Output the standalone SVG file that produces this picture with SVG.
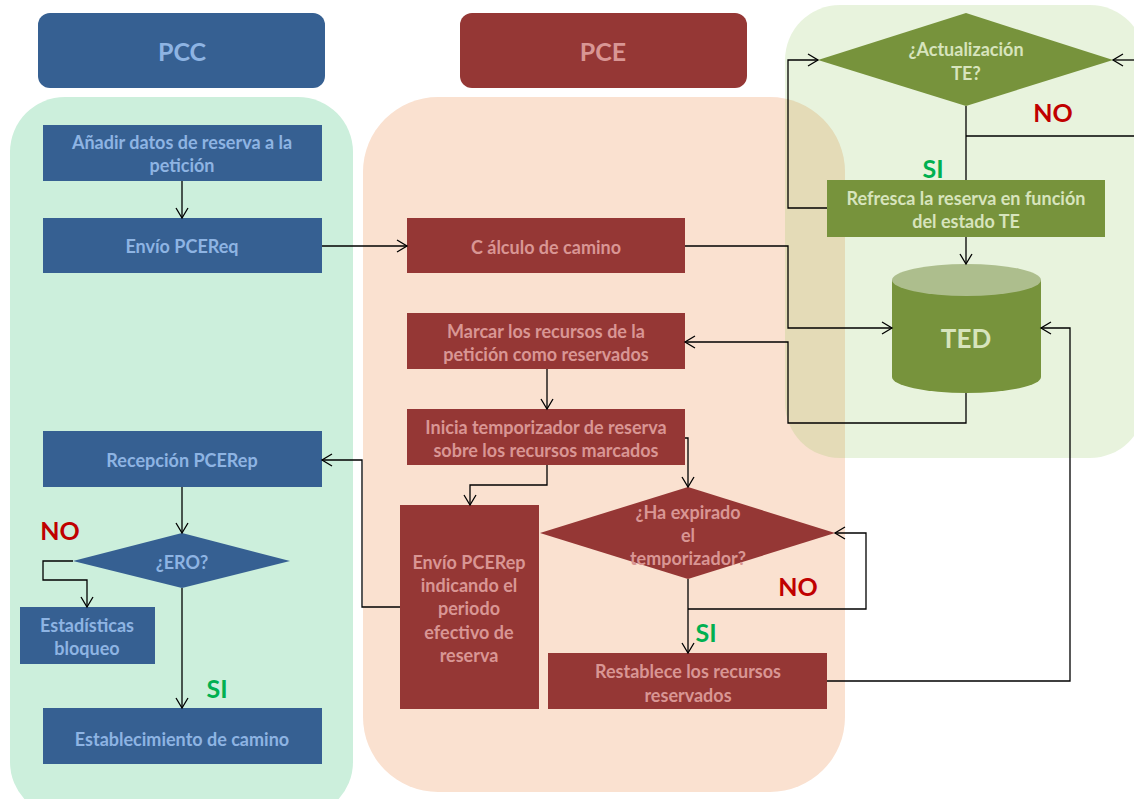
<svg xmlns="http://www.w3.org/2000/svg" width="1134" height="799" viewBox="0 0 1134 799">
<defs>
<marker id="arr" markerUnits="userSpaceOnUse" markerWidth="14" markerHeight="14" viewBox="0 0 12 14" refX="11" refY="7" orient="auto">
<path d="M1,1 L11,7 L1,13" fill="none" stroke="#000" stroke-width="1.3"/>
</marker>
<style>
text{font-family:Lato,"Liberation Sans",sans-serif;font-weight:bold;text-anchor:middle;dominant-baseline:central}
.t{font-size:18px}
.h{font-size:25px}
.blue{fill:#366092}
.red{fill:#953735}
.grn{fill:#77933c}
.tb{fill:#8eb4e3}
.tr{fill:#d99694}
.tg{fill:#d7e4bd}
.no{fill:#c00000;font-size:25px}
.si{fill:#00b050;font-size:25px}
.c{fill:none;stroke:#000;stroke-width:1.3}
.a{marker-end:url(#arr)}
</style>
</defs>
<g id="panels">
<rect id="pcc-panel" x="10" y="97" width="343" height="720" rx="55" fill="#ccefdc"/>
<rect id="pce-panel" x="363" y="97" width="482" height="695" rx="75" fill="#fae1d0"/>
<rect id="te-panel" x="785" y="5" width="360" height="453" rx="55" fill="#8cc355" fill-opacity="0.2"/>
</g>
<g id="hdr-pcc"><rect x="38" y="13" width="287" height="75" rx="12" class="blue"/><text x="182" y="51" class="h tb">PCC</text></g>
<g id="hdr-pce"><rect x="460" y="13" width="287" height="75" rx="12" class="red"/><text x="603" y="51" class="h tr">PCE</text></g>

<g id="n-anadir"><rect x="43" y="125" width="279" height="56" class="blue"/><text x="182" y="142" class="t tb">Añadir datos de reserva a la</text><text x="182" y="165" class="t tb">petición</text></g>
<g id="n-envio-req"><rect x="43" y="218" width="279" height="55" class="blue"/><text x="182" y="246" class="t tb">Envío PCEReq</text></g>
<g id="n-recepcion"><rect x="43" y="431" width="279" height="56" class="blue"/><text x="182" y="460" class="t tb">Recepción PCERep</text></g>
<g id="n-ero"><polygon points="73,561 182,533 290,561 182,588" class="blue"/><text x="182" y="562" class="t tb">¿ERO?</text></g>
<g id="n-estad"><rect x="20" y="607" width="135" height="57" class="blue"/><text x="87" y="625" class="t tb">Estadísticas</text><text x="87" y="648" class="t tb">bloqueo</text></g>
<g id="n-establec"><rect x="43" y="708" width="279" height="56" class="blue"/><text x="182" y="739" class="t tb">Establecimiento de camino</text></g>

<g id="n-calculo"><rect x="407" y="218" width="278" height="55" class="red"/><text x="546" y="247" class="t tr">C álculo de camino</text></g>
<g id="n-marcar"><rect x="407" y="313" width="278" height="56" class="red"/><text x="546" y="331" class="t tr">Marcar los recursos de la</text><text x="546" y="354" class="t tr">petición como reservados</text></g>
<g id="n-inicia"><rect x="407" y="409" width="278" height="56" class="red"/><text x="546" y="427" class="t tr">Inicia temporizador de reserva</text><text x="546" y="450" class="t tr">sobre los recursos marcados</text></g>
<g id="n-envio-rep"><rect x="400" y="505" width="139" height="204" class="red"/>
<text x="469" y="562" class="t tr">Envío PCERep</text><text x="469" y="585" class="t tr">indicando el</text><text x="469" y="608" class="t tr">periodo</text><text x="469" y="632" class="t tr">efectivo de</text><text x="469" y="655" class="t tr">reserva</text></g>
<g id="n-expirado"><polygon points="540,533 688,487 835,533 688,579" class="red"/><text x="688" y="512" class="t tr">¿Ha expirado</text><text x="688" y="535" class="t tr">el</text><text x="688" y="558" class="t tr">temporizador?</text></g>
<g id="n-restablece"><rect x="548" y="653" width="279" height="56" class="red"/><text x="688" y="671" class="t tr">Restablece los recursos</text><text x="688" y="695" class="t tr">reservados</text></g>

<g id="n-actualiz"><polygon points="818,60 966,13 1113,60 966,106" class="grn"/><text x="966" y="49" class="t tg">¿Actualización</text><text x="966" y="73" class="t tg">TE?</text></g>
<g id="n-refresca"><rect x="827" y="180" width="278" height="57" class="grn"/><text x="966" y="198" class="t tg">Refresca la reserva en función</text><text x="966" y="221" class="t tg">del estado TE</text></g>
<g id="n-ted"><path d="M892,280 L892,377 A74.5,16 0 0 0 1041,377 L1041,280 Z" class="grn"/><ellipse cx="966.5" cy="280" rx="74.5" ry="16" fill="#adbe8d"/><text x="966" y="338" class="tg" style="font-size:26px">TED</text></g>

<g id="connectors">
<path d="M182,181 V218" class="c a"/>
<path d="M322,246 H407" class="c a"/>
<path d="M182,487 V533" class="c a"/>
<path d="M73,561 H43 V580 H87 V607" class="c a"/>
<path d="M182,588 V708" class="c a"/>
<path d="M685,246 H788 V328 H892" class="c a"/>
<path d="M966,393 V423 H788 V342 H685" class="c a"/>
<path d="M547,369 V409" class="c a"/>
<path d="M547,465 V485 H470 V505" class="c a"/>
<path d="M685,438 H688 V487" class="c a"/>
<path d="M400,607 H362 V460 H322" class="c a"/>
<path d="M688,579 V653" class="c a"/>
<path d="M688,609 H866 V533 H835" class="c a"/>
<path d="M827,681 H1070 V328 H1041" class="c a"/>
<path d="M966,106 V180" class="c"/>
<path d="M966,136 H1134" class="c"/>
<path d="M1134,60 H1113" class="c a"/>
<path d="M827,208 H788 V60 H818" class="c a"/>
<path d="M966,237 V264" class="c a"/>
</g>
<g id="labels">
<text x="1053" y="112" class="no">NO</text>
<text x="933" y="168" class="si">SI</text>
<text x="798" y="586" class="no">NO</text>
<text x="706" y="632" class="si">SI</text>
<text x="60" y="530" class="no">NO</text>
<text x="217" y="688" class="si">SI</text>
</g>
</svg>
